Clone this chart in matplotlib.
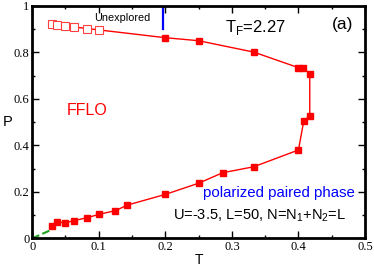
import numpy as np
import matplotlib.pyplot as plt
from matplotlib.ticker import MultipleLocator, FuncFormatter

# open squares (upper branch, small T)
T_open = [0.03, 0.0375, 0.05, 0.0625, 0.083, 0.1]
P_open = [0.920, 0.916, 0.914, 0.910, 0.902, 0.896]

# filled squares, upper branch then lower branch
T_up = [0.2, 0.25, 0.333, 0.4, 0.407, 0.417]
P_up = [0.863, 0.850, 0.801, 0.734, 0.734, 0.708]
T_low = [0.417, 0.408, 0.4, 0.333, 0.286, 0.25, 0.2, 0.143, 0.125, 0.1, 0.083, 0.0625, 0.05, 0.0375, 0.03]
P_low = [0.527, 0.505, 0.380, 0.308, 0.282, 0.237, 0.189, 0.143, 0.119, 0.103, 0.089, 0.076, 0.067, 0.070, 0.053]

T_green = [0.0, 0.026]
P_green = [0.0, 0.033]

T_blue = [0.196, 0.196]
P_blue = [0.900, 0.990]

fig = plt.figure(figsize=(3.74, 2.66), dpi=100)
ax = fig.add_axes([0.086, 0.104, 0.890, 0.874])

# line through everything
T_line = [T_open[0]] + T_up + T_low
P_line = [P_open[0]] + P_up + P_low
ax.plot(T_line, P_line, '-', color='#ff0000', lw=1.0, zorder=2)
ax.plot(T_up + T_low, P_up + P_low, 's', color='#ff0000', ms=5, zorder=3)
ax.plot(T_open, P_open, 's', mfc='white', mec='#ff4040', mew=0.8, ms=5.5, zorder=3)
ax.plot(T_green, P_green, '--', color='#20a020', lw=1.5, zorder=2)
ax.plot(T_blue, P_blue, '-', color='#0000ff', lw=1.6, zorder=2)

ax.set_xlim(0, 0.5)
ax.set_ylim(0, 1)
fmt = FuncFormatter(lambda v, pos: ('%.1f' % v).rstrip('0').rstrip('.') if abs(v) > 1e-9 else '0')
ax.xaxis.set_major_locator(MultipleLocator(0.1))
ax.xaxis.set_minor_locator(MultipleLocator(0.05))
ax.yaxis.set_major_locator(MultipleLocator(0.2))
ax.yaxis.set_minor_locator(MultipleLocator(0.1))
ax.xaxis.set_major_formatter(fmt)
ax.yaxis.set_major_formatter(fmt)
ax.tick_params(which='both', direction='in', top=True, right=True, width=1)
ax.tick_params(which='major', length=5, labelsize=9, pad=2)
ax.tick_params(which='minor', length=2.5)
for lab in ax.get_xticklabels() + ax.get_yticklabels():
    lab.set_family('Liberation Serif')
for s in ax.spines.values():
    s.set_linewidth(2)

sans = 'Liberation Sans'
ax.set_xlabel('T', fontsize=10, family=sans, labelpad=0)
ax.set_ylabel('P', fontsize=10.5, family=sans, rotation=0, labelpad=4, va='center')

ax.text(0.093, 0.948, 'Unexplored', fontsize=7.8, family=sans, va='center')
ax.text(0.29, 0.909, r'T$_\mathregular{F}$=2.27', fontsize=12, family=sans, va='center')
ax.text(0.45, 0.92, '(a)', fontsize=12.5, family=sans, va='center')
ax.text(0.052, 0.552, 'FFLO', fontsize=11.5, family=sans, color='#ff0000', va='center')
ax.text(0.257, 0.194, 'polarized paired phase', fontsize=10.8, family=sans, color='#0000ff', va='center')
ax.text(0.212, 0.096, r'U=-3.5, L=50, N=N$_\mathregular{1}$+N$_\mathregular{2}$=L', fontsize=10.5, family=sans, va='center')

plt.savefig('out.png', dpi=100)
